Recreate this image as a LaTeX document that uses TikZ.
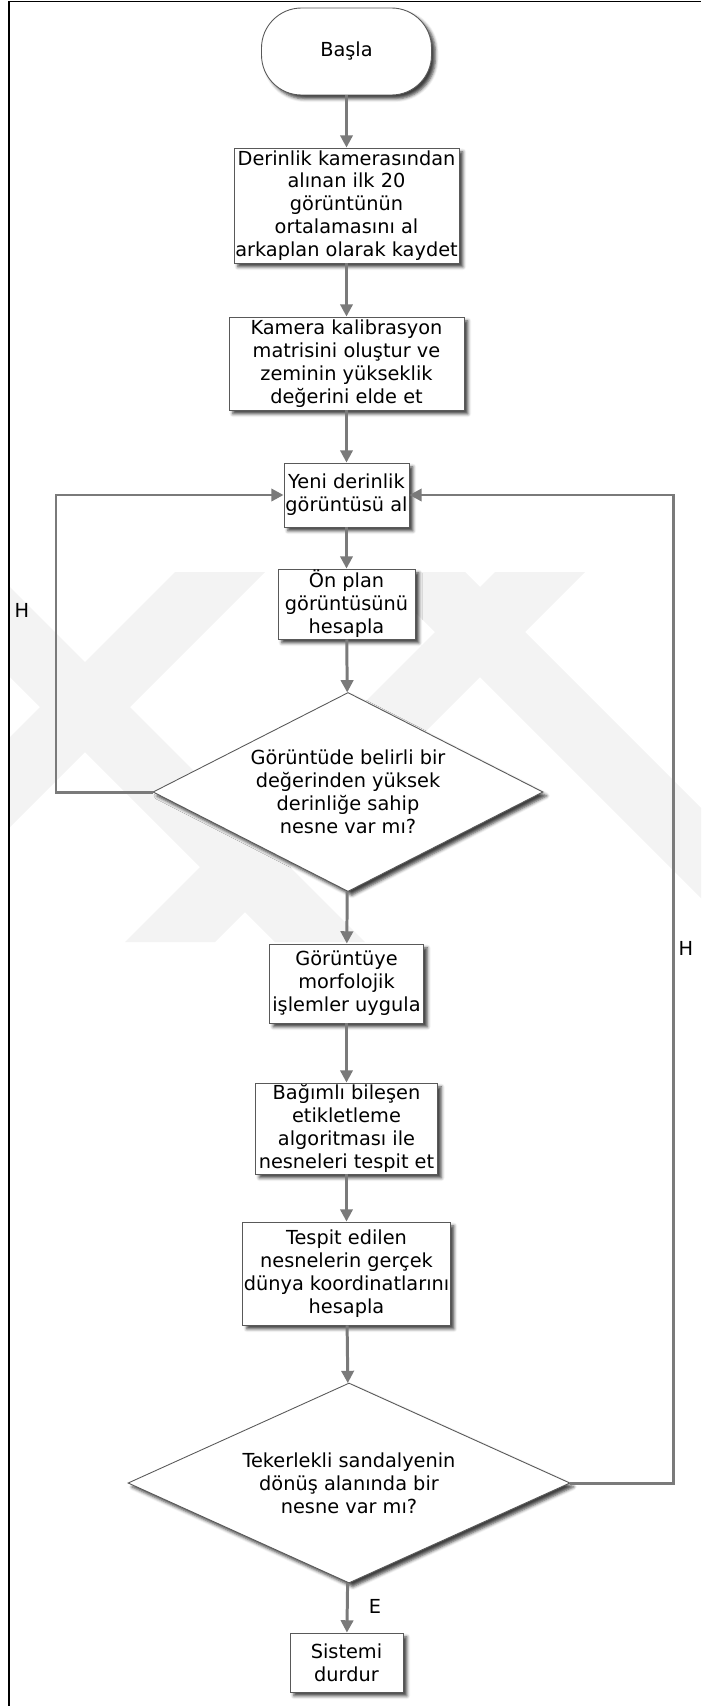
\documentclass[tikz,border=0pt]{standalone}
\usepackage{fontspec}
\setmainfont{DejaVu Sans}
\usepackage{tikz}
\usetikzlibrary{arrows.meta, shapes.geometric, shadows.blur}
\definecolor{linegray}{RGB}{122,122,122}
\definecolor{markgray}{RGB}{243,243,243}

\begin{document}
\begin{tikzpicture}[
    box/.style={draw=black!65, fill=white, line width=0.5pt, align=center, inner sep=0.5pt,
        font=\fontsize{11}{13}\selectfont,
        blur shadow={shadow xshift=2.2pt, shadow yshift=-2.2pt, shadow blur radius=1.8pt, shadow opacity=75}},
    term/.style={box, rounded corners=0.8cm},
    cond/.style={box, diamond, aspect=2, inner sep=0pt},
    arrow/.style={-{Triangle[width=7pt,length=7pt]}, line width=1.7pt, draw=linegray},
    lbl/.style={font=\fontsize{11}{13}\selectfont}
]
    \useasboundingbox (0,0) rectangle (14.02,-34.12);

    % watermark
    \begin{scope}
        \clip (0.2,-11.44) rectangle (14.02,-18.84);
        \fill[markgray] (3.5,-11.44) -- (5.3,-11.44) -- (-2.1,-18.84) -- (-3.9,-18.84) -- cycle;
        \fill[markgray] (9.9,-11.44) -- (11.7,-11.44) -- (4.3,-18.84) -- (2.5,-18.84) -- cycle;
        \fill[markgray] (7.5,-11.44) -- (9.3,-11.44) -- (16.7,-18.84) -- (14.9,-18.84) -- cycle;
        \fill[markgray] (-1.9,-11.44) -- (-0.1,-11.44) -- (7.3,-18.84) -- (5.5,-18.84) -- cycle;
    \end{scope}

    % frame
    \draw[line width=0.9pt] (0.18,-34.12) -- (0.18,-0.03) -- (14.02,-0.03);

    \node[term, minimum width=3.4cm, minimum height=1.74cm] (start) at (6.93,-1.03) {Başla};
    \node[box, minimum width=4.5cm, minimum height=2.3cm] (avg) at (6.93,-4.11)
        {Derinlik kamerasından\\alınan ilk 20\\görüntünün\\ortalamasını al\\arkaplan olarak kaydet};
    \node[box, minimum width=4.7cm, minimum height=1.86cm] (calib) at (6.93,-7.27)
        {Kamera kalibrasyon\\matrisini oluştur ve\\zeminin yükseklik\\değerini elde et};
    \node[box, minimum width=2.5cm, minimum height=1.28cm] (grab) at (6.93,-9.9)
        {Yeni derinlik\\görüntüsü al};
    \node[box, minimum width=2.74cm, minimum height=1.4cm] (fg) at (6.93,-12.08)
        {Ön plan\\görüntüsünü\\hesapla};
    \node[cond, minimum width=7.8cm, minimum height=3.98cm] (depth) at (6.96,-15.84)
        {Görüntüde belirli bir\\değerinden yüksek\\derinliğe sahip\\nesne var mı?};
    \node[box, minimum width=3.08cm, minimum height=1.58cm] (morph) at (6.93,-19.67)
        {Görüntüye\\morfolojik\\işlemler uygula};
    \node[box, minimum width=3.64cm, minimum height=1.82cm] (label) at (6.93,-22.57)
        {Bağımlı bileşen\\etikletleme\\algoritması ile\\nesneleri tespit et};
    \node[box, minimum width=4.12cm, minimum height=2.06cm] (world) at (6.93,-25.47)
        {Tespit edilen\\nesnelerin gerçek\\dünya koordinatlarını\\hesapla};
    \node[cond, minimum width=8.84cm, minimum height=4cm] (turn) at (6.98,-29.66)
        {Tekerlekli sandalyenin\\dönüş alanında bir\\nesne var mı?};
    \node[box, minimum width=2.26cm, minimum height=1.18cm] (stop) at (6.93,-33.25)
        {Sistemi\\durdur};

    \coordinate (lx) at (1.12,0);
    \coordinate (rx) at (13.46,0);

    \draw[arrow] (start) -- (avg);
    \draw[arrow] (avg) -- (calib);
    \draw[arrow] (calib) -- (grab);
    \draw[arrow] (grab) -- (fg);
    \draw[arrow] (fg) -- (depth);
    \draw[arrow] (depth) -- (morph);
    \draw[arrow] (morph) -- (label);
    \draw[arrow] (label) -- (world);
    \draw[arrow] (world) -- (turn);
    \draw[arrow] (turn) -- (stop);

    \draw[arrow] (depth.west) -- (depth.west -| lx) |- (grab.west);
    \draw[arrow] (turn.east) -- (turn.east -| rx) |- (grab.east);

    \node[lbl] (hleft) at (0.44,-12.2) {H};
    \node[lbl] (hright) at (13.72,-18.96) {H};
    \node[lbl] (yes) at (7.5,-32.12) {E};
\end{tikzpicture}
\end{document}
